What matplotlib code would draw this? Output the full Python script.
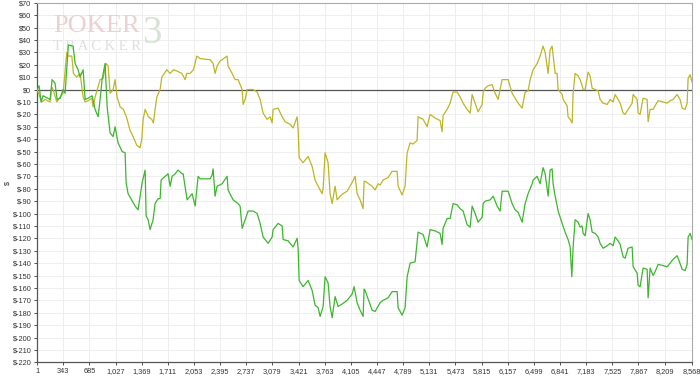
"""Poker Tracker style winnings graph: net won vs. all-in adjusted."""
import matplotlib

matplotlib.use("Agg")
import matplotlib.pyplot as plt

plt.rcParams["font.family"] = ["Liberation Sans", "DejaVu Sans"]

# hand number / dollars
green_hands = [
    1, 27, 53, 79, 171, 197, 236, 263, 302, 341, 367, 393, 410, 472, 498, 537, 563, 603, 629, 668,
    720, 760, 799, 825, 851, 890, 917, 956, 995, 1021, 1060, 1113, 1152, 1165, 1191, 1283, 1322, 1375,
    1414, 1427, 1453, 1479, 1518, 1544, 1584, 1610, 1623, 1675, 1714, 1741, 1767, 1806, 1845, 1898,
    1911, 1963, 2028, 2068, 2107, 2133, 2264, 2290, 2303, 2329, 2355, 2421, 2486, 2499, 2565, 2630,
    2656, 2683, 2722, 2761, 2826, 2879, 2918, 2957, 3023, 3075, 3088, 3153, 3206, 3219, 3284, 3350,
    3402, 3415, 3428, 3480, 3546, 3598, 3637, 3677, 3703, 3742, 3768, 3807, 3833, 3860, 3899, 3938,
    3991, 4056, 4121, 4147, 4187, 4226, 4265, 4278, 4291, 4383, 4422, 4487, 4527, 4592, 4644, 4710,
    4723, 4775, 4814, 4841, 4880, 4945, 4984, 5050, 5102, 5141, 5207, 5272, 5298, 5311, 5364, 5403,
    5442, 5495, 5534, 5573, 5625, 5665, 5691, 5730, 5769, 5822, 5835, 5861, 5926, 5966, 6018, 6057,
    6083, 6162, 6214, 6253, 6293, 6345, 6384, 6423, 6476, 6489, 6541, 6580, 6619, 6646, 6685, 6711,
    6737, 6750, 6777, 6816, 6868, 6907, 6946, 6973, 6995, 7012, 7038, 7077, 7103, 7130, 7143, 7169,
    7208, 7234, 7261, 7300, 7339, 7365, 7404, 7457, 7496, 7535, 7561, 7600, 7627, 7666, 7692, 7731,
    7784, 7797, 7849, 7862, 7888, 7927, 7980, 7993, 8019, 8058, 8084, 8124, 8189, 8241, 8281, 8320,
    8372, 8385, 8438, 8477, 8503, 8516, 8542, 8568,
]
green_won = [
    0, 3, -10, -5, -8, 8, 5, -8, -7, 0, -3, 21, 36, 35, 21, 16, 10, 16, -8, -7,
    -5, -16, -22, -8, 8, 21, -14, -35, -38, -30, -43, -50, -51, -75, -84, -94, -97, -75,
    -65, -102, -105, -113, -105, -92, -88, -88, -73, -70, -68, -78, -70, -68, -65, -68,
    -68, -89, -84, -94, -70, -72, -72, -69, -64, -86, -78, -76, -70, -81, -89, -92,
    -94, -112, -105, -98, -98, -100, -108, -119, -124, -119, -113, -108, -110, -121, -122, -127,
    -120, -128, -154, -159, -154, -162, -174, -176, -183, -175, -151, -156, -175, -184, -167, -175,
    -173, -170, -165, -159, -172, -178, -183, -161, -162, -178, -179, -172, -170, -168, -163, -163,
    -176, -182, -176, -151, -140, -139, -115, -117, -127, -113, -114, -116, -125, -112, -104, -104,
    -92, -93, -96, -98, -109, -111, -94, -100, -107, -103, -92, -90, -89, -86, -94, -98,
    -82, -82, -92, -97, -99, -107, -92, -84, -76, -73, -70, -76, -63, -68, -86, -65,
    -64, -76, -86, -98, -108, -115, -121, -127, -151, -127, -105, -107, -111, -110, -116, -118,
    -100, -105, -115, -116, -119, -124, -128, -126, -124, -126, -119, -122, -125, -135, -136, -128,
    -127, -143, -148, -158, -159, -144, -145, -168, -144, -150, -147, -141, -142, -143, -140, -137,
    -134, -136, -145, -146, -141, -119, -116, -121,
]

yellow_hands = [
    1, 62, 106, 171, 193, 210, 259, 302, 341, 389, 406, 455, 476, 520, 563, 603, 629, 668, 716, 733,
    760, 825, 864, 903, 930, 956, 995, 1021, 1047, 1087, 1130, 1174, 1217, 1257, 1305, 1348, 1370,
    1388, 1414, 1457, 1501, 1522, 1544, 1567, 1610, 1632, 1697, 1741, 1784, 1828, 1894, 1937, 1959,
    2002, 2046, 2090, 2133, 2264, 2303, 2329, 2355, 2395, 2486, 2499, 2552, 2591, 2630, 2683, 2696,
    2722, 2748, 2826, 2879, 2918, 2957, 3009, 3049, 3075, 3088, 3153, 3206, 3245, 3310, 3350, 3402,
    3415, 3428, 3480, 3546, 3598, 3637, 3677, 3729, 3742, 3768, 3807, 3833, 3860, 3899, 3925, 3964,
    4003, 4056, 4121, 4160, 4187, 4226, 4265, 4278, 4291, 4383, 4422, 4461, 4487, 4527, 4592, 4644,
    4710, 4723, 4775, 4814, 4841, 4880, 4919, 4971, 4984, 5050, 5102, 5141, 5207, 5272, 5298, 5311,
    5364, 5403, 5442, 5495, 5534, 5573, 5625, 5665, 5691, 5730, 5769, 5822, 5835, 5861, 5900, 5953,
    5992, 6031, 6083, 6162, 6214, 6253, 6293, 6345, 6384, 6423, 6450, 6489, 6541, 6580, 6619, 6646,
    6685, 6711, 6737, 6777, 6803, 6816, 6868, 6881, 6933, 6946, 6973, 6999, 7012, 7038, 7077, 7103,
    7130, 7143, 7169, 7208, 7234, 7261, 7300, 7339, 7365, 7404, 7457, 7496, 7535, 7561, 7600, 7627,
    7666, 7692, 7731, 7784, 7797, 7849, 7862, 7888, 7927, 7980, 7993, 8019, 8058, 8084, 8124, 8189,
    8241, 8281, 8320, 8372, 8411, 8438, 8477, 8503, 8516, 8542, 8568,
]
yellow_won = [
    0, -10, -8, -10, 2, 0, -10, -6, -3, 30, 27, 27, 13, 10, 13, -6, -10, -9, -7, -14,
    -6, 8, 9, 21, 19, -3, 0, 8, -6, -14, -16, -23, -33, -38, -45, -47, -40,
    -24, -16, -22, -24, -27, -16, -6, 0, 10, 16, 13, 16, 15, 13, 8, 13,
    13, 16, 27, 25, 24, 21, 13, 19, 23, 27, 19, 13, 8, 8, 0, -12,
    -8, 0, 0, -2, -8, -19, -24, -22, -27, -16, -15, -22, -26, -28, -31, -22,
    -32, -55, -59, -54, -62, -73, -78, -84, -80, -51, -59, -84, -92, -78, -89, -86,
    -84, -82, -75, -70, -84, -89, -96, -74, -74, -78, -81, -76, -77, -73, -71, -66,
    -66, -78, -85, -78, -51, -43, -44, -41, -22, -24, -30, -20, -23, -25, -34, -21,
    -16, -11, -2, -2, -6, -11, -16, -19, -4, -11, -18, -12, -2, 1, 3, 4,
    -3, -8, 8, 8, -3, -7, -11, -15, -2, -1, 8, 16, 21, 27, 35, 30,
    13, 32, 35, 13, 13, 0, -4, -8, -13, -22, -24, -27, -3, 13, 11, 8,
    3, 0, 0, 14, 11, 1, 0, -1, -8, -11, -12, -8, -10, -4, -8, -11,
    -19, -20, -16, -11, -4, -8, -19, -20, -7, -8, -26, -16, -16, -13, -9, -10,
    -11, -9, -8, -4, -8, -15, -16, -11, 9, 12, 6,
]

x_ticks = [1, 343, 685, 1027, 1369, 1711, 2053, 2395, 2737, 3079, 3421, 3763, 4105, 4447,
           4789, 5131, 5473, 5815, 6157, 6499, 6841, 7183, 7525, 7867, 8209, 8568]
y_ticks = list(range(-220, 71, 10))

fig = plt.figure(figsize=(7.0, 3.77), dpi=100)
ax = fig.add_axes([0.053, 0.039, 0.9357, 0.9537])

ax.plot(yellow_hands, yellow_won, color="#bdb526", lw=0.9, zorder=3)
ax.plot(green_hands, green_won, color="#3db52e", lw=0.9, zorder=4)
ax.axhline(0, color="#555555", lw=0.9, zorder=2)

ax.set_xlim(1, 8568)
ax.set_ylim(-220, 70)
ax.set_xticks(x_ticks)
ax.set_xticklabels([f"{v:,}" for v in x_ticks])
ax.set_yticks(y_ticks)
ax.set_yticklabels([f"${v}" for v in y_ticks])
ax.tick_params(labelsize=5.3, colors="#333333", length=2.5, width=0.6, pad=1.5)
ax.grid(True, color="#eeeeee", lw=0.7, zorder=0)
ax.set_axisbelow(True)
for side in ("left", "bottom"):
    ax.spines[side].set_color("#555555")
    ax.spines[side].set_linewidth(0.9)
for side in ("top", "right"):
    ax.spines[side].set_color("#aaaaaa")
    ax.spines[side].set_linewidth(0.8)

fig.text(0.011, 0.515, "$", rotation=90, fontsize=5.3, color="#333333", va="center", ha="center")

# watermark logo
ax.text(0.024, 0.935, "POKER", transform=ax.transAxes, fontsize=19, family="Liberation Serif",
        color="#ebd2d2", va="center", ha="left", zorder=1)
ax.text(0.024, 0.877, "T R A C K E R", transform=ax.transAxes, fontsize=10.5,
        family="Liberation Serif", color="#dedede", va="center", ha="left", zorder=1)
ax.text(0.160, 0.915, "3", transform=ax.transAxes, fontsize=28, family="Liberation Serif",
        color="#d6e4d3", va="center", ha="left", zorder=1)

fig.savefig("out.png", dpi=100)
